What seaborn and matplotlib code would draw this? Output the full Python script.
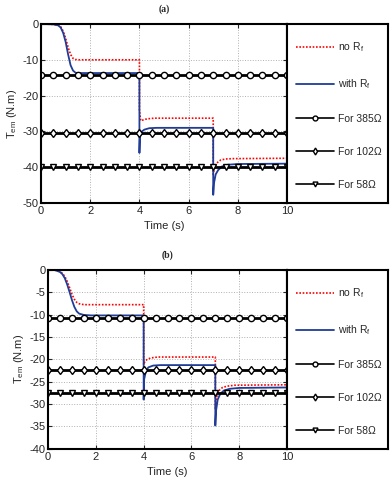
import numpy as np
import pandas as pd
import matplotlib
matplotlib.use("Agg")
import matplotlib.pyplot as plt
import seaborn as sns

sns.set_style("ticks")
plt.rcParams['font.family'] = ['Liberation Sans', 'DejaVu Sans']
plt.rcParams['mathtext.fontset'] = 'custom'
plt.rcParams['mathtext.rm'] = 'Liberation Sans'
plt.rcParams['axes.unicode_minus'] = False

# ---- panel (a) data ----
t_red_a = [0, 0.5, 0.7, 0.8, 0.9, 1.0, 1.1, 1.2, 1.3, 1.4, 1.5, 1.7, 4.0, 4.0, 4.05,
           4.15, 4.3, 4.6, 7.0, 7.0, 7.05, 7.15, 7.3, 7.5, 7.8, 10]
red_a = [0, -0.1, -0.3, -0.8, -2.0, -4.0, -6.5, -8.5, -9.6, -9.9, -10.0, -10.0, -10.0, -24.0,
         -27.0, -26.8, -26.5, -26.3, -26.3, -42.0, -40.0, -38.8, -38.0, -37.7, -37.6, -37.5]
t_blue_a = [0, 0.5, 0.7, 0.8, 0.9, 1.0, 1.1, 1.2, 1.3, 1.4, 1.5, 1.7, 4.0, 4.0, 4.02, 4.1,
            4.2, 4.4, 4.7, 7.0, 7.0, 7.03, 7.1, 7.2, 7.35, 7.6, 8.0, 10]
blue_a = [0, -0.1, -0.4, -1.0, -2.5, -5.0, -8.5, -11.5, -13.0, -13.6, -13.7, -13.7, -13.7,
          -36.0, -31.5, -30.0, -29.5, -29.1, -29.0, -29.0, -47.7, -44.5, -42.0, -40.8,
          -39.8, -39.3, -39.1, -39.0]
levels_a = [-14.3, -30.5, -39.9]

# ---- panel (b) data ----
t_red_b = [0, 0.3, 0.5, 0.6, 0.7, 0.8, 0.9, 1.0, 1.1, 1.2, 1.3, 1.5, 1.8, 4.0, 4.0, 4.05,
           4.15, 4.3, 4.6, 7.0, 7.0, 7.05, 7.15, 7.3, 7.5, 7.8, 10]
red_b = [0, -0.1, -0.4, -0.8, -1.5, -2.6, -4.0, -5.5, -6.6, -7.3, -7.6, -7.8, -7.8, -7.8,
         -21.2, -20.5, -20.0, -19.7, -19.5, -19.5, -31.0, -28.5, -27.0, -26.3, -26.0,
         -25.8, -25.7]
t_blue_b = [0, 0.3, 0.5, 0.6, 0.7, 0.8, 0.9, 1.0, 1.1, 1.2, 1.3, 1.5, 1.8, 4.0, 4.0, 4.02,
            4.1, 4.2, 4.4, 4.7, 7.0, 7.0, 7.03, 7.1, 7.2, 7.35, 7.6, 8.0, 10]
blue_b = [0, -0.1, -0.5, -1.0, -1.9, -3.3, -5.0, -6.8, -8.3, -9.3, -9.8, -10.1, -10.2, -10.2,
          -29.0, -24.5, -22.5, -21.8, -21.4, -21.3, -21.3, -34.8, -31.5, -29.0, -27.8,
          -27.0, -26.6, -26.4, -26.3]
levels_b = [-10.7, -22.3, -27.5]

marker_t = [0, 0.5, 1, 1.5, 2, 2.5, 3, 3.5, 4, 4.5, 5, 5.5, 6, 6.5, 7, 7.5, 8, 8.5,
            9, 9.5, 10]
level_markers = ['o', 'd', 'v']
labels = ['no R$_{\\rm f}$', 'with R$_{\\rm f}$', 'For 385\u03a9', 'For 102\u03a9', 'For 58\u03a9']

fig = plt.figure(figsize=(3.91, 4.8), dpi=100)


def panel(rect, title, t_red, red, t_blue, blue, levels, ylim, yticks):
    ax = fig.add_axes(rect)
    sns.lineplot(x=t_red, y=red, ax=ax, color='red', linestyle=(0, (1, 1)), lw=1.2,
                 estimator=None, sort=False)
    sns.lineplot(x=t_blue, y=blue, ax=ax, color='#203c96', lw=1.3,
                 estimator=None, sort=False)
    for lev, mk in zip(levels, level_markers):
        sns.lineplot(x=marker_t, y=[lev] * len(marker_t), ax=ax, color='black', lw=2,
                     marker=mk, markersize=4.5, markerfacecolor='white',
                     markeredgecolor='black', markeredgewidth=1, estimator=None)
    ax.set_xlim(0, 10)
    ax.set_ylim(*ylim)
    ax.set_xticks([0, 2, 4, 6, 8, 10])
    ax.set_yticks(yticks)
    ax.grid(True, color='#b0b0b0', linestyle=':', lw=0.7)
    ax.tick_params(direction='in', top=True, right=True, labelsize=8, length=3, pad=2)
    for s in ax.spines.values():
        s.set_linewidth(1.5)
        s.set_color('black')
    ax.set_xlabel('Time (s)', fontsize=8, labelpad=4)
    ax.set_ylabel('T$_{\\rm em}$ (N.m)', fontsize=8, labelpad=2)
    ax.set_title(title, fontsize=7, fontweight='bold', family='Liberation Serif', pad=9)

    lax = fig.add_axes([0.734, rect[1], 0.258, rect[3]])
    lax.set_xticks([])
    lax.set_yticks([])
    for s in lax.spines.values():
        s.set_linewidth(1.5)
        s.set_color('black')
    leg = lax.legend(ax.lines, labels, loc='center left', bbox_to_anchor=(0.0, 0.49),
                     frameon=False, fontsize=7.5, labelspacing=2.2, handlelength=3.6,
                     handletextpad=0.4, borderaxespad=0.5)
    for h in leg.get_lines()[2:]:
        h.set_linewidth(1.2)
        h.set_markersize(3.5)
    return ax


panel([0.105, 0.577, 0.629, 0.373], '(a)', t_red_a, red_a, t_blue_a, blue_a, levels_a,
      (-50, 0), [0, -10, -20, -30, -40, -50])
panel([0.123, 0.065, 0.611, 0.373], '(b)', t_red_b, red_b, t_blue_b, blue_b, levels_b,
      (-40, 0), [0, -5, -10, -15, -20, -25, -30, -35, -40])

fig.savefig('out.png', dpi=100)
